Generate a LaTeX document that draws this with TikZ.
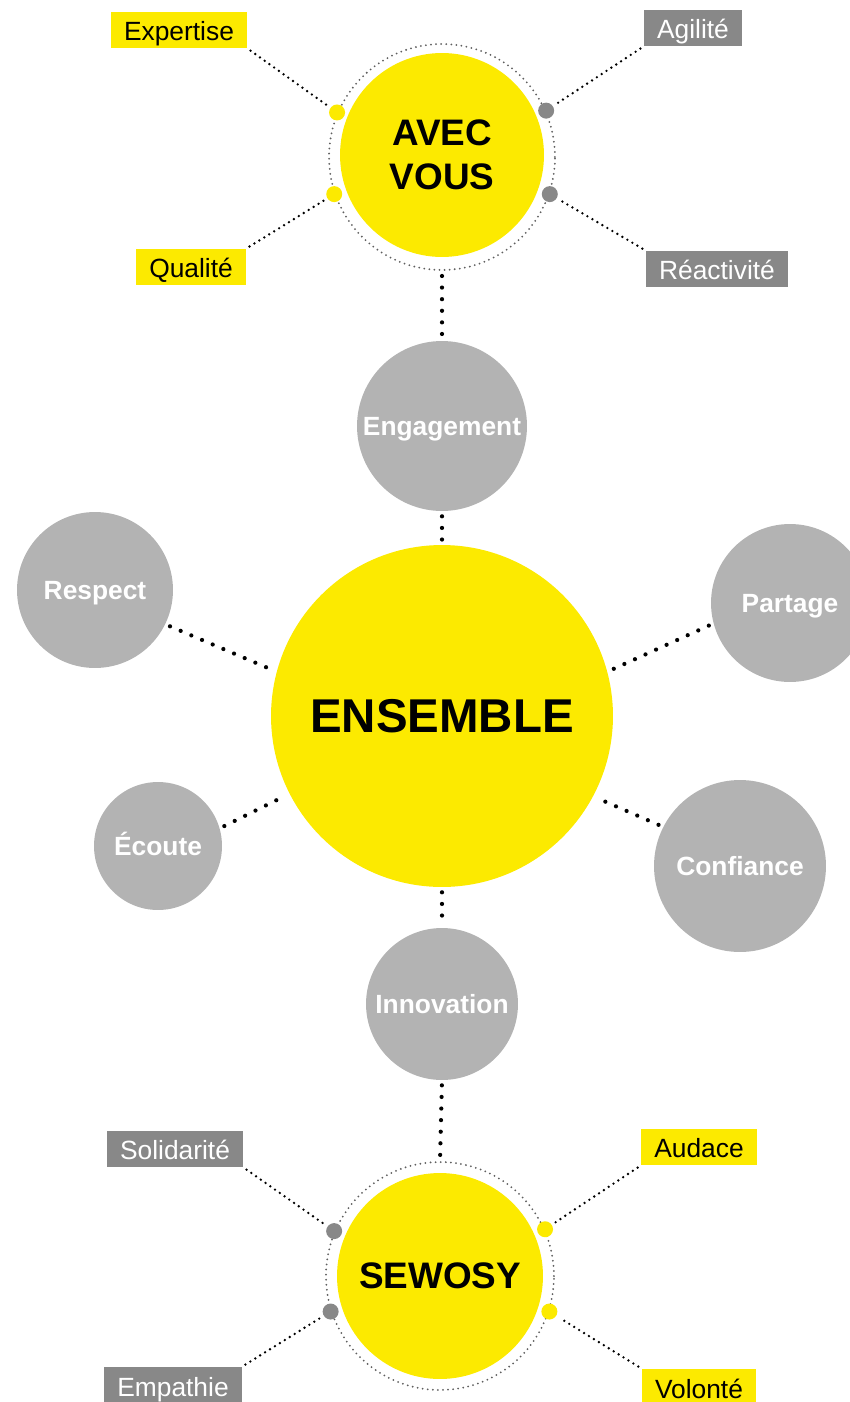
\documentclass[tikz,border=0pt]{standalone}
\usepackage{fontspec}
\setmainfont{Liberation Sans}
\usetikzlibrary{positioning}
\definecolor{sunyellow}{RGB}{252,234,0}
\definecolor{discgrey}{RGB}{179,179,179}
\definecolor{taggrey}{RGB}{136,136,136}
\definecolor{ringgrey}{RGB}{95,95,95}
\tikzset{
	yellowdisc/.style={circle, fill=sunyellow, inner sep=0pt, align=center, font=\bfseries},
	greydisc/.style={circle, fill=discgrey, text=white, inner sep=0pt, text height=12.8pt, text depth=1.5pt, font=\fontsize{15}{18}\selectfont\bfseries},
	ring/.style={circle, draw=ringgrey, line width=1.15pt, line cap=round, dash pattern=on 0pt off 2.9pt, inner sep=0pt},
	yellowtag/.style={fill=sunyellow, text=black, inner xsep=0.26cm, inner ysep=0pt, minimum height=0.72cm, text height=14pt, text depth=1.5pt, font=\fontsize{15}{18}\selectfont},
	greytag/.style={fill=taggrey, text=white, inner xsep=0.26cm, inner ysep=0pt, minimum height=0.72cm, text height=14pt, text depth=1.5pt, font=\fontsize{15}{18}\selectfont},
	yellowpip/.style={circle, fill=sunyellow, minimum size=0.32cm, inner sep=0pt},
	greypip/.style={circle, fill=taggrey, minimum size=0.32cm, inner sep=0pt},
	thinlink/.style={line width=1.5pt, line cap=round, dash pattern=on 0pt off 3.3pt, shorten <=0.08cm, shorten >=0.08cm},
	thicklink/.style={line width=2.4pt, line cap=round, dash pattern=on 0pt off 6.6pt, shorten <=0.1cm, shorten >=0.1cm}
}

\begin{document}
\begin{tikzpicture}[x=0.02cm, y=-0.02cm]

	\useasboundingbox (0,0) rectangle (849,1402);

	% top cluster
	\node[ring, minimum size=4.52cm] (ringA) at (442,157) {};
	\node[yellowdisc, minimum size=4.08cm, font=\fontsize{21}{25}\selectfont\bfseries] (avec) at (442,155) {AVEC\\VOUS};

	\node[yellowpip] (pExp) at (ringA.157) {};
	\node[yellowpip] (pQua) at (ringA.199) {};
	\node[greypip] (pAgi) at (ringA.24) {};
	\node[greypip] (pRea) at (ringA.-19) {};

	\node[yellowtag] (expertise) at (179,30) {Expertise};
	\node[greytag] (agilite) at (693,28) {Agilité};
	\node[yellowtag] (qualite) at (191,267) {Qualité};
	\node[greytag] (reactivite) at (717,269) {Réactivité};

	\draw[thinlink] (expertise.south east) -- (pExp);
	\draw[thinlink] (agilite.south west) -- (pAgi);
	\draw[thinlink] (qualite.north east) -- (pQua);
	\draw[thinlink] (reactivite.north west) -- (pRea);

	% middle cluster
	\node[greydisc, minimum size=3.4cm] (engagement) at (442,426) {Engagement};
	\node[yellowdisc, minimum size=6.84cm, font=\fontsize{27}{32}\selectfont\bfseries] (ensemble) at (442,716) {ENSEMBLE};
	\node[greydisc, minimum size=3.12cm] (respect) at (95,590) {Respect};
	\node[greydisc, minimum size=3.16cm] (partage) at (790,603) {Partage};
	\node[greydisc, minimum size=2.56cm] (ecoute) at (158,846) {Écoute};
	\node[greydisc, minimum size=3.44cm] (confiance) at (740,866) {Confiance};
	\node[greydisc, minimum size=3.04cm] (innovation) at (442,1004) {Innovation};

	\draw[thicklink] (ringA.south) -- (engagement.north);
	\draw[thicklink] (engagement.south) -- (ensemble.north);
	\draw[thicklink] (ensemble.south) -- (innovation.north);
	\draw[thicklink] (respect.-26) -- (ensemble.165);
	\draw[thicklink] (partage.195) -- (ensemble.15);
	\draw[thicklink] (ecoute.16) -- (ensemble.207);
	\draw[thicklink] (confiance.153) -- (ensemble.-28);

	% bottom cluster
	\node[ring, minimum size=4.56cm] (ringS) at (440,1276) {};
	\node[yellowdisc, minimum size=4.12cm, font=\fontsize{21}{25}\selectfont\bfseries] (sewosy) at (440,1276) {SEWOSY};

	\node[greypip] (pSol) at (ringS.157) {};
	\node[greypip] (pEmp) at (ringS.198) {};
	\node[yellowpip] (pAud) at (ringS.24) {};
	\node[yellowpip] (pVol) at (ringS.-18) {};

	\node[greytag] (solidarite) at (175,1149) {Solidarité};
	\node[yellowtag] (audace) at (699,1147) {Audace};
	\node[greytag] (empathie) at (173,1385) {Empathie};
	\node[yellowtag] (volonte) at (699,1387) {Volonté};

	\draw[thicklink] (innovation.south) -- (ringS.north);
	\draw[thinlink] (solidarite.south east) -- (pSol);
	\draw[thinlink] (audace.south west) -- (pAud);
	\draw[thinlink] (empathie.north east) -- (pEmp);
	\draw[thinlink] (volonte.north west) -- (pVol);

\end{tikzpicture}
\end{document}
